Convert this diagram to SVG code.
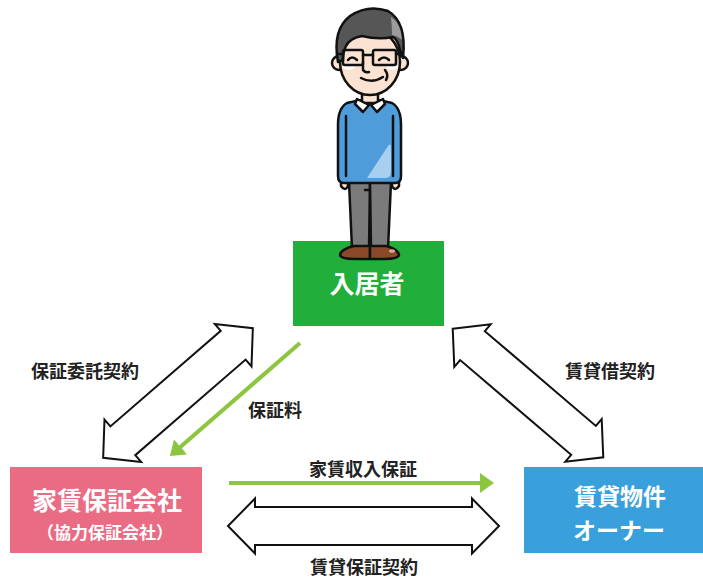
<svg xmlns="http://www.w3.org/2000/svg" width="703" height="578" viewBox="0 0 703 578">
  <style>
    .label { font-family: "Noto Sans CJK JP", "Noto Sans", sans-serif; font-size: 18px; font-weight: 700; fill: #222; text-anchor: middle; }
    .boxtext { font-family: "Noto Sans CJK JP", "Noto Sans", sans-serif; font-size: 25px; font-weight: 700; fill: #fff; text-anchor: middle; }
    .boxtext2 { font-family: "Noto Sans CJK JP", "Noto Sans", sans-serif; font-size: 23px; font-weight: 700; fill: #fff; text-anchor: middle; }
    .subtext { font-family: "Noto Sans CJK JP", "Noto Sans", sans-serif; font-size: 17px; font-weight: 700; fill: #fff; text-anchor: middle; }
    .contract { fill: #fff; stroke: #111; stroke-width: 2; stroke-linejoin: miter; }
    .flow { stroke: #8CC63E; stroke-width: 4; fill: none; }
    .ink { stroke: #111; stroke-width: 2.5; stroke-linejoin: round; stroke-linecap: round; }
    .skin { fill: #FCE2D2; }
  </style>
  <defs>
    <!-- double-headed contract arrow, centred on the origin, pointing along x -->
    <polygon id="dbl" points="-99,0 -73,-28 -73,-19 73,-19 73,-28 99,0 73,28 73,19 -73,19 -73,28"/>
    <marker id="head" viewBox="0 0 14 20" refX="6" refY="10" markerWidth="14" markerHeight="20" markerUnits="userSpaceOnUse" orient="auto">
      <path d="M0,0 L14,10 L0,20 Z" fill="#8CC63E"/>
    </marker>
  </defs>

  <!-- tenant -->
  <g id="tenant">
    <rect x="293" y="241" width="151" height="85" fill="#22AE3A"/>
    <text class="boxtext" x="367" y="293">入居者</text>
  </g>

  <!-- person standing on the tenant box -->
  <g id="person">
    <!-- legs -->
    <path class="ink" d="M349,182 L370,182 L369,249 L352,249 Z" fill="#7B7B7B"/>
    <path class="ink" d="M370,182 L391,182 L388,249 L371,249 Z" fill="#7B7B7B"/>
    <path class="ink" d="M365,190 L369,190" fill="none"/>
    <!-- shoes -->
    <path class="ink" d="M370,246 L354,246 Q341,249 340,255 Q341,259 355,259 L370,259 Z" fill="#8A4A2A"/>
    <path class="ink" d="M370,246 L386,246 Q398,249 399,255 Q398,259 384,259 L370,259 Z" fill="#8A4A2A"/>
    <ellipse cx="392" cy="251" rx="3" ry="1.8" fill="#D9A98E"/>
    <!-- hands -->
    <path class="ink skin" d="M341,174 L348,174 L348,186 Q345,192 341,186 Z"/>
    <path class="ink skin" d="M392,174 L399,174 L399,186 Q395,192 392,186 Z"/>
    <!-- sweater -->
    <path class="ink" d="M347,103 Q338,108 338,125 L338,176 Q338,183 344,183 L395,183 Q401,183 401,176 L401,125 Q401,108 392,103 Q370,96 347,103 Z" fill="#4E9DDA"/>
    <path d="M367,178 L388,146 Q391,142 391,149 L391,172 Q391,178 385,178 Z" fill="#A8CFEE"/>
    <path class="ink" d="M346,116 L346,176 M393,116 L393,176" fill="none"/>
    <!-- neck and collar -->
    <path class="ink skin" d="M362,92 L378,92 L378,103 L362,103 Z"/>
    <path class="ink" d="M357,99 L369,105 L363,112 L355,104 Z" fill="#fff"/>
    <path class="ink" d="M383,99 L371,105 L377,112 L385,104 Z" fill="#fff"/>
    <!-- ears -->
    <circle class="ink skin" cx="339" cy="63" r="7"/>
    <circle class="ink skin" cx="401" cy="63" r="7"/>
    <!-- face -->
    <ellipse class="ink skin" cx="370" cy="62" rx="30" ry="33"/>
    <!-- hair -->
    <path class="ink" d="M338,62 Q332,30 350,16 Q368,4 388,11 Q407,22 403,58 L400,50 Q398,40 393,37 Q378,40 362,36 Q350,38 346,46 Q343,52 343,60 Z" fill="#565656"/>
    <path d="M391,17 Q401,23 402,40 Q398,36 392,35 Q392,26 391,17 Z" fill="#9C9C9C"/>
    <!-- cheeks -->
    <ellipse cx="349" cy="67" rx="6" ry="3" fill="#fff" opacity="0.8"/>
    <ellipse cx="392" cy="67" rx="6" ry="3" fill="#fff" opacity="0.8"/>
    <!-- glasses -->
    <rect class="ink" x="343" y="50" width="20" height="15" rx="2" fill="none"/>
    <rect class="ink" x="373" y="50" width="23" height="15" rx="2" fill="none"/>
    <path class="ink" d="M363,55 L373,55 M338,54 L343,54 M396,54 L401,54" fill="none"/>
    <!-- eyes -->
    <path class="ink" d="M348,60 Q352,55 357,60 M379,60 Q384,55 389,60" fill="none"/>
    <!-- nose, mouth, smile line -->
    <path class="ink" d="M363,62 L363,70 Q365,73 369,72" fill="none"/>
    <path class="ink" d="M361,78 Q372,84 383,77" fill="none"/>
    <path class="ink" d="M385,70 Q389,75 386,80" fill="none" stroke-width="1.8"/>
  </g>

  <!-- guarantee company -->
  <g id="guarantor">
    <rect x="10" y="467" width="192" height="86" fill="#EA6C84"/>
    <text class="boxtext" x="107" y="510">家賃保証会社</text>
    <text class="subtext" x="105" y="539">（協力保証会社）</text>
  </g>

  <!-- property owner -->
  <g id="owner">
    <rect x="524" y="467" width="179" height="86" fill="#3AA0DB"/>
    <text class="boxtext2" x="620" y="505">賃貸物件</text>
    <text class="boxtext2" x="619" y="539">オーナー</text>
  </g>

  <!-- connectors -->
  <g id="connectors">
    <use href="#dbl" class="contract" transform="translate(178,393) rotate(-40.9)"/>
    <use href="#dbl" class="contract" transform="translate(528,393) rotate(40.5)"/>
    <polygon class="contract" points="228,526 255,498.5 255,507 472,507 472,498.5 499,526 472,553.5 472,545 255,545 255,553.5"/>
    <line class="flow" x1="300" y1="343" x2="176" y2="450.8" marker-end="url(#head)"/>
    <line class="flow" x1="229" y1="483" x2="486" y2="483" marker-end="url(#head)"/>
    <text class="label" x="85" y="378">保証委託契約</text>
    <text class="label" x="275" y="417">保証料</text>
    <text class="label" x="610" y="378">賃貸借契約</text>
    <text class="label" x="363" y="476">家賃収入保証</text>
    <text class="label" x="364" y="574">賃貸保証契約</text>
  </g>
</svg>
